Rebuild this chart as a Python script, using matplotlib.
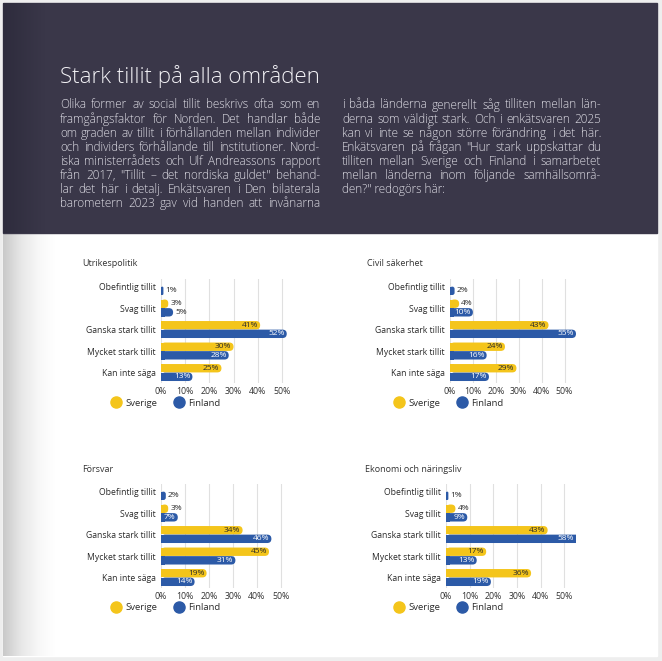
import matplotlib
matplotlib.use("Agg")
import matplotlib.pyplot as plt
import numpy as np
from matplotlib.patches import FancyBboxPatch, Rectangle
from matplotlib.lines import Line2D
from matplotlib.colors import LinearSegmentedColormap

# ---------------- data ----------------
categories = ["Obefintlig tillit", "Svag tillit", "Ganska stark tillit",
              "Mycket stark tillit", "Kan inte säga"]
series_names = ["Sverige", "Finland"]
tick_values = [0, 10, 20, 30, 40, 50]
tick_labels = ["0%", "10%", "20%", "30%", "40%", "50%"]

chart_titles = ["Utrikespolitik", "Civil säkerhet", "Försvar", "Ekonomi och näringsliv"]
utr_se = [0, 3, 41, 30, 25]
utr_fi = [1, 5, 52, 28, 13]
civ_se = [0, 4, 43, 24, 29]
civ_fi = [2, 10, 55, 16, 17]
for_se = [0, 3, 34, 45, 19]
for_fi = [2, 7, 46, 31, 14]
eko_se = [0, 4, 43, 17, 36]
eko_fi = [1, 9, 58, 13, 19]

heading = "Stark tillit på alla områden"
body_left = [
    "Olika former av social tillit beskrivs ofta som en",
    "framgångsfaktor för Norden. Det handlar både",
    "om graden av tillit i förhållanden mellan individer",
    "och individers förhållande till institutioner. Nord-",
    "iska ministerrådets och Ulf Andreassons rapport",
    "från 2017, \"Tillit – det nordiska guldet\" behand-",
    "lar det här i detalj. Enkätsvaren i Den bilaterala",
    "barometern 2023 gav vid handen att invånarna",
]
body_right = [
    "i båda länderna generellt såg tilliten mellan län-",
    "derna som väldigt stark. Och i enkätsvaren 2025",
    "kan vi inte se någon större förändring i det här.",
    "Enkätsvaren på frågan \"Hur stark uppskattar du",
    "tilliten mellan Sverige och Finland i samarbetet",
    "mellan länderna inom följande samhällsområ-",
    "den?\" redogörs här:",
]

# ---------------- style ----------------
YELLOW = "#f4c51b"
BLUE = "#2c5aa7"
HEADER = "#3a3749"
TXT = "#2a2a2a"
W, H = 662, 661
plt.rcParams['font.family'] = ['Open Sans', 'DejaVu Sans']

fig = plt.figure(figsize=(W / 100, H / 100), dpi=100)
fig.patch.set_facecolor("#eeeeee")
bg = fig.add_axes([0, 0, 1, 1])
bg.axis('off')

# page
bg.add_patch(Rectangle((3, 3), 654, 653, color='white', zorder=1))
# left book shadow
sh = LinearSegmentedColormap.from_list('s', ['#c9c9c9', '#e6e6e6', '#f7f7f7', '#ffffff'])
bg.imshow(np.linspace(0, 1, 200).reshape(1, -1), extent=(3, 55, 656, 233),
          cmap=sh, aspect='auto', zorder=2, interpolation='bilinear')
# header
bg.add_patch(Rectangle((3, 3), 654, 230, color=HEADER, zorder=3))
hg = LinearSegmentedColormap.from_list('h', ['#2e2c3d', HEADER])
bg.imshow(np.linspace(0, 1, 200).reshape(1, -1), extent=(3, 45, 233, 3),
          cmap=hg, aspect='auto', zorder=4, interpolation='bilinear')
bg.set_xlim(0, W)
bg.set_ylim(H, 0)

renderer = fig.canvas.get_renderer()

# heading fitted to column span
t = bg.text(60, 77, heading, fontsize=17, color='#f3f2f6', fontweight='light',
            va='center', ha='left', zorder=5)
wpx = t.get_window_extent(renderer).width
t.set_fontsize(17 * 260 / wpx)

# body font size: widest natural line fits the column
BODY_KW = dict(color='#dedde5', fontweight='light', va='center', ha='left', zorder=5)
probe = bg.text(0, 0, "", fontsize=10, **BODY_KW)
mx = 0
for line in body_left + body_right:
    probe.set_text(line)
    mx = max(mx, probe.get_window_extent(renderer).width)
probe.remove()
BODY_FS = 10 * 257 / mx


def justified(lines, x0, x1, y0, dy, last_left=False):
    for i, line in enumerate(lines):
        y = y0 + i * dy
        if last_left and i == len(lines) - 1:
            bg.text(x0, y, line, fontsize=BODY_FS, **BODY_KW)
            continue
        words = line.split(' ')
        ts = [bg.text(0, y, w, fontsize=BODY_FS, **BODY_KW) for w in words]
        ws = [tt.get_window_extent(renderer).width for tt in ts]
        gap = (x1 - x0 - sum(ws)) / max(len(words) - 1, 1)
        x = x0
        for tt, w in zip(ts, ws):
            tt.set_x(x)
            x += w + gap


justified(body_left, 60, 320, 105, 14.1)
justified(body_right, 342, 601, 105, 14.1, last_left=True)

# ---------------- charts ----------------
ROW = 21.5
XMAX = 55
rects = [(161, 279, 133), (450, 279, 126), (161, 484, 132), (446, 484, 130)]
title_pos = [(82, 264), (367, 264), (82, 469), (365, 469)]
legend_pos = [(116, 403), (399, 403), (116, 608), (399, 608)]
data = [(utr_se, utr_fi), (civ_se, civ_fi), (for_se, for_fi), (eko_se, eko_fi)]

ypos = np.arange(len(categories))
bh = 0.39
for k in range(4):
    left, top, wpx_ax = rects[k]
    hpx = 4.85 * ROW
    ax = fig.add_axes([left / W, 1 - (top + hpx) / H, wpx_ax / W, hpx / H])
    ax.set_facecolor('none')
    ax.set_xlim(0, XMAX)
    ax.set_ylim(4.5, -0.35)
    px_per_x = wpx_ax / XMAX
    ma = px_per_x / ROW
    r = 4.2 / px_per_x
    se, fi = data[k]
    for vals, off, col, tcol in [(se, -0.2, YELLOW, TXT), (fi, 0.2, BLUE, 'white')]:
        bars = ax.barh(ypos + off, vals, height=bh, color=col)
        for b, v in zip(bars, vals):
            x0, y0, bw, bhh = b.get_x(), b.get_y(), b.get_width(), b.get_height()
            b.remove()
            if v <= 0:
                continue
            re = min(r, bw / 2, (bhh / 2) / ma)
            ax.add_patch(FancyBboxPatch((x0, y0), bw, bhh,
                                        boxstyle=f"round,pad=0,rounding_size={re}",
                                        mutation_aspect=ma, fc=col, ec='none', zorder=3))
            ax.add_patch(Rectangle((x0, y0), min(bw, re), bhh, fc=col, ec='none', zorder=3))
            yc = y0 + bhh / 2
            if v >= 7:
                ax.text(min(v, XMAX) - 0.9, yc, f"{v}%", ha='right', va='center',
                        fontsize=6.0, color=tcol, fontweight='medium', zorder=4)
            else:
                ax.text(v + 0.9, yc, f"{v}%", ha='left', va='center',
                        fontsize=6.0, color=TXT, fontweight='medium', zorder=4)
    ax.set_xticks(tick_values)
    ax.set_xticklabels(tick_labels)
    ax.set_yticks(ypos)
    ax.set_yticklabels(categories)
    ax.tick_params(axis='x', length=0, pad=2.5, labelsize=6.3, labelcolor='#333333')
    ax.tick_params(axis='y', length=0, pad=4, labelsize=6.2, labelcolor=TXT)
    for lab in ax.get_yticklabels():
        lab.set_fontweight('medium')
    for s in ax.spines.values():
        s.set_visible(False)
    ax.grid(axis='x', color='#e0e0e0', lw=0.8, zorder=0)
    ax.set_axisbelow(True)

    bg.text(title_pos[k][0], title_pos[k][1], chart_titles[k], fontsize=6.5,
            color='#333333', va='center', ha='left', zorder=5)

    handles = [Line2D([], [], marker='o', ls='', color=c, markersize=8, label=n)
               for c, n in zip([YELLOW, BLUE], series_names)]
    fs = 6.8
    hl = 0.8
    lx = legend_pos[k][0] - hl * fs * 100 / 72 / 2
    ax.legend(handles=handles, ncol=2, frameon=False, loc='center left',
              bbox_to_anchor=(lx / W, 1 - legend_pos[k][1] / H),
              bbox_transform=fig.transFigure, fontsize=fs, handlelength=hl,
              handletextpad=0.6, columnspacing=1.9, borderpad=0, borderaxespad=0,
              labelcolor=TXT)

fig.savefig("out.png", dpi=100, facecolor=fig.get_facecolor())
